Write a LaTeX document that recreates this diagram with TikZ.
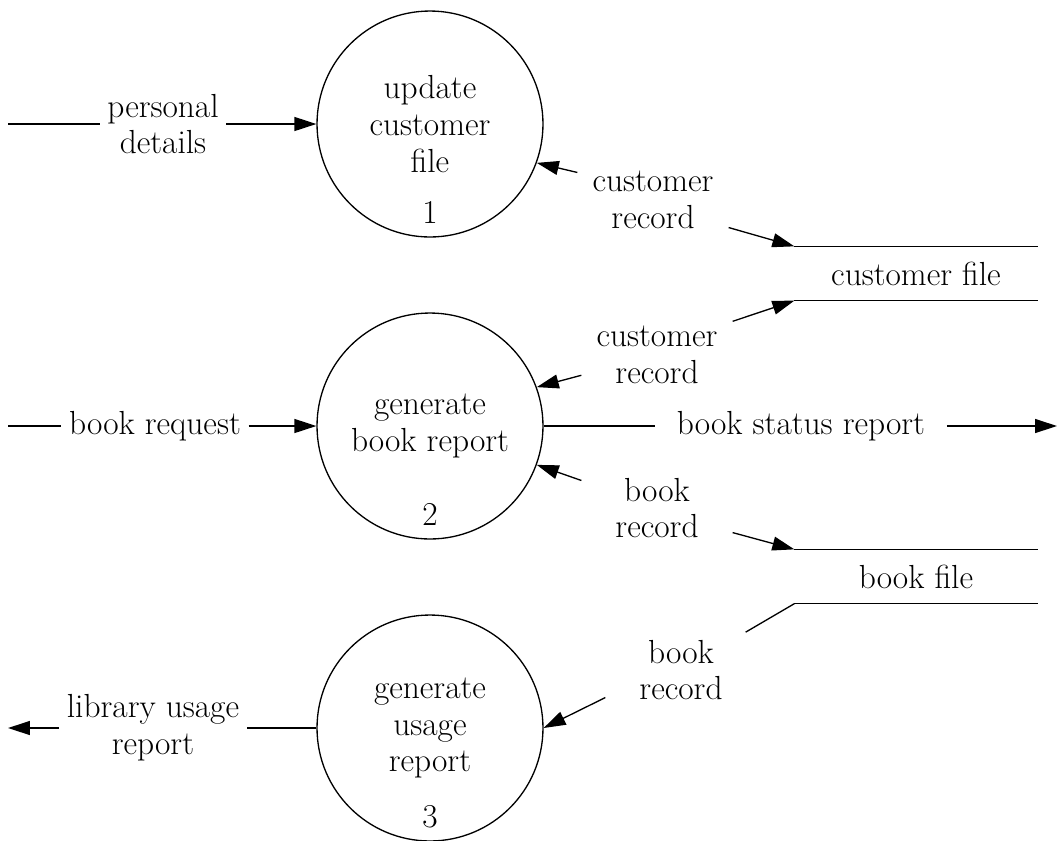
\documentclass[tikz,border=0pt]{standalone}
\usepackage{fontspec}
\usetikzlibrary{arrows.meta}
\begin{document}
\begin{tikzpicture}[
        x = 0.02cm, y = -0.02cm,
        line width = 0.75pt,
        every node/.style = {
            font = \fontsize{19}{21}\selectfont
        },
        process/.style = {
            draw = black,
            circle,
            minimum size = 4.52cm,
            inner sep = 0pt,
            align = center,
            label = {[anchor = south, inner sep = 0pt, label distance = -0.26cm]south:#1}
        },
        store/.style = {
            minimum width = 4.84cm,
            minimum height = 1.06cm,
            inner sep = 0pt
        },
        flowlabel/.style = {
            align = center,
            inner sep = 4pt
        },
        record/.style = {
            flowlabel,
            minimum width = 3cm
        },
        flow/.style = {
            -{Triangle[length = 0.44cm, width = 0.28cm]}
        }]
    \useasboundingbox (0, 0) rectangle (1059, 840);
    \node[process = 1] (upd) at (430, 124) {update\\customer\\file};
    \node[process = 2] (gen) at (430, 426) {generate\\book report};
    \node[process = 3] (use) at (430, 728) {generate\\usage\\report};
    \node[store] (cfile) at (916, 273.5) {customer file};
    \node[store] (bfile) at (916, 576.5) {book file};
    \draw (cfile.north west) -- (cfile.north east) (cfile.south west) -- (cfile.south east);
    \draw (bfile.north west) -- (bfile.north east) (bfile.south west) -- (bfile.south east);
    \node[flowlabel] (pers) at (163, 124) {personal\\details};
    \node[flowlabel] (breq) at (155, 426) {book request};
    \node[flowlabel, inner xsep = 12pt] (bstat) at (801, 426) {book status report};
    \node[flowlabel] (lib) at (153, 728) {library usage\\report};
    \node[record] (crec1) at (653, 200) {customer\\record};
    \node[record] (crec2) at (657, 355) {customer\\record};
    \node[record] (brec1) at (657, 508) {book\\record};
    \node[record] (brec2) at (681, 670) {book\\record};
    \coordinate (persin) at (8, 124);
    \coordinate (breqin) at (8, 426);
    \coordinate (bstatout) at (1057, 426);
    \coordinate (libout) at (8, 728);
    \draw (persin) -- (pers);
    \draw[flow] (pers) -- (upd);
    \draw[flow] (crec1.160) -- (upd.-20);
    \draw[flow] (crec1.-20) -- (cfile.north west);
    \draw[flow] (crec2.24) -- (cfile.south west);
    \draw[flow] (crec2.195) -- (gen.20);
    \draw (breqin) -- (breq);
    \draw[flow] (breq) -- (gen);
    \draw (gen) -- (bstat);
    \draw[flow] (bstat) -- (bstatout);
    \draw[flow] (brec1.160) -- (gen.-20);
    \draw[flow] (brec1.-18) -- (bfile.north west);
    \draw (bfile.south west) -- (brec2);
    \draw[flow] (brec2.200) -- (use.east);
    \draw (use) -- (lib);
    \draw[flow] (lib) -- (libout);
\end{tikzpicture}
\end{document}
